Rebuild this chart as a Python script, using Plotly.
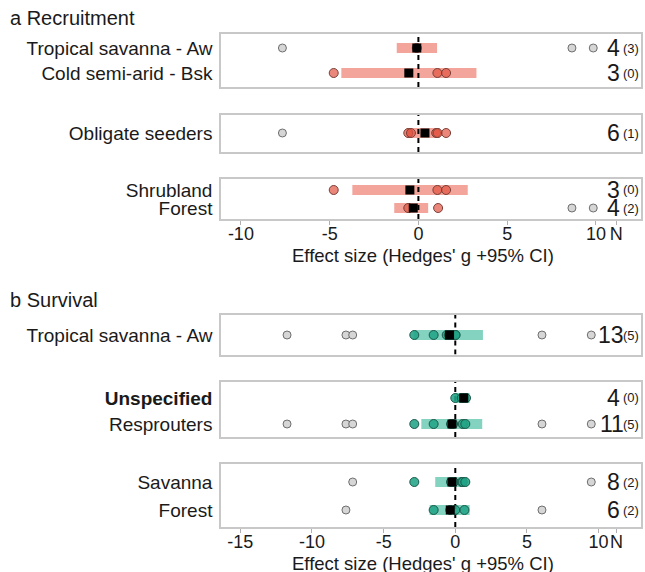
import plotly.graph_objects as go

# ---------------- Data: panel a (Recruitment) ----------------
a_labels = ["Tropical savanna - Aw", "Cold semi-arid - Bsk", "Obligate seeders", "Shrubland", "Forest"]
a_box = [0, 0, 1, 2, 2]
a_row = [1, 0, 0, 1, 0]
a_mean = [-0.09, -0.54, 0.37, -0.48, -0.29]
a_lo = [-1.22, -4.34, -0.66, -3.72, -1.36]
a_hi = [1.05, 3.27, 1.21, 2.78, 0.55]
a_pts = [[-0.09], [-4.77, 1.07, 1.56], [-0.57, -0.42, 1.0, 1.08, 1.56], [-4.77, 1.07, 1.56], [-0.57, 1.11]]
a_grey = [[-7.66, 8.65, 9.85], [], [-7.66], [], [8.65, 9.85]]
a_n = [4, 3, 6, 3, 4]
a_excl = [3, 0, 1, 0, 2]
a_ticks = [-10, -5, 0, 5, 10]

# ---------------- Data: panel b (Survival) ----------------
b_labels = ["Tropical savanna - Aw", "<b>Unspecified</b>", "Resprouters", "Savanna", "Forest"]
b_box = [3, 4, 4, 5, 5]
b_row = [0, 1, 0, 1, 0]
b_mean = [-0.40, 0.59, -0.23, -0.23, -0.35]
b_lo = [-2.91, -0.05, -2.37, -1.40, -1.79]
b_hi = [1.93, 1.00, 1.88, 0.80, 1.00]
b_pts = [[-2.86, -1.51, -0.6, -0.45, -0.3, -0.15, 0.0, 0.02],
         [0.0, 0.45, 0.6, 0.75],
         [-2.86, -1.51, -0.3, -0.15, 0.52, 0.70],
         [-2.86, -0.3, -0.1, 0.45, 0.52, 0.70],
         [-1.51, -0.35, 0.0, 0.64]]
b_grey = [[-11.74, -7.63, -7.16, 6.05, 9.49], [], [-11.74, -7.63, -7.16, 6.05, 9.49],
          [-7.16, 9.49], [-7.63, 6.05]]
b_n = [13, 4, 11, 8, 6]
b_excl = [5, 0, 5, 2, 2]
b_ticks = [-15, -10, -5, 0, 5, 10]

x_title = "Effect size (Hedges' g +95% CI)"
REF = 0  # zero-effect reference line

# ---------------- Layout geometry ----------------
W, H = 645, 572
X_LEFT, X_RIGHT = 221, 641
box_px = [(34, 87), (115, 152), (179, 219), (315, 354.5), (382, 437), (464, 527)]
box_yrange = [(-0.56, 1.56), (-0.76, 0.72), (-0.61, 1.61), (-0.78, 0.80), (-0.50, 1.615), (-0.607, 1.643)]
panel_xrange = [(-11.12, 12.54), (-16.35, 12.96)]
panel_nx = [11.15, 11.25]
title_px = [256, 563]

FONT = "Liberation Sans, Arial, sans-serif"
TXT = "#1a1a1a"
BOXC = "#c8c8c8"

panels = [
    dict(labels=a_labels, box=a_box, row=a_row, mean=a_mean, lo=a_lo, hi=a_hi, pts=a_pts,
         grey=a_grey, n=a_n, excl=a_excl, ticks=a_ticks,
         bar="#f3a59b", pfill="rgba(226,84,66,0.70)", pline="#7a4038"),
    dict(labels=b_labels, box=b_box, row=b_row, mean=b_mean, lo=b_lo, hi=b_hi, pts=b_pts,
         grey=b_grey, n=b_n, excl=b_excl, ticks=b_ticks,
         bar="#84d3c0", pfill="rgba(34,164,134,0.88)", pline="#1b5a4c"),
]

fig = go.Figure()
layout = dict(width=W, height=H, margin=dict(l=0, r=0, t=0, b=0, autoexpand=False),
              paper_bgcolor="white", plot_bgcolor="white", showlegend=False,
              font=dict(family=FONT, size=17, color=TXT))
annotations = []

def ax_name(i, kind):
    return kind if i == 0 else f"{kind}{i+1}"

for bi in range(6):
    p = 0 if bi < 3 else 1
    top, bot = box_px[bi]
    last = bi in (2, 5)
    xr = panel_xrange[p]
    P = panels[p]
    idx = [k for k in range(5) if P["box"][k] == bi]
    xa = dict(domain=[X_LEFT / W, X_RIGHT / W], range=list(xr), anchor=ax_name(bi, "y"),
              automargin=False,
              showline=True, mirror=True, linecolor=BOXC, linewidth=1.5,
              showgrid=False, zeroline=False, tickangle=0,
              tickvals=P["ticks"] + [panel_nx[p]],
              ticktext=[str(t) for t in P["ticks"]] + ["N"],
              showticklabels=last, ticks="outside" if last else "",
              ticklen=4, tickcolor="#b0b0b0", tickwidth=1.2, ticklabelstandoff=-6,
              tickfont=dict(size=18, color=TXT, family=FONT))
    if bi not in (0, 3):
        xa["matches"] = "x" if p == 0 else "x4"
    ya = dict(domain=[1 - bot / H, 1 - top / H], range=list(box_yrange[bi]),
              anchor=ax_name(bi, "x"), automargin=False,
              showline=True, mirror=True, linecolor=BOXC,
              linewidth=1.5, showgrid=False, zeroline=False, ticks="",
              tickvals=[P["row"][k] for k in idx], ticktext=[P["labels"][k] for k in idx],
              ticklabelstandoff=3, tickfont=dict(size=19, color=TXT, family=FONT))
    layout[ax_name(bi, "xaxis")] = xa
    layout[ax_name(bi, "yaxis")] = ya

    xs, ys = ax_name(bi, "x"), ax_name(bi, "y")
    # CI bars
    for k in idx:
        fig.add_trace(go.Scatter(x=[P["lo"][k], P["hi"][k]], y=[P["row"][k]] * 2, mode="lines",
                                 line=dict(color=P["bar"], width=10), xaxis=xs, yaxis=ys,
                                 hoverinfo="skip"))
    # reference dashed line
    fig.add_trace(go.Scatter(x=[REF, REF], y=list(box_yrange[bi]), mode="lines",
                             line=dict(color="black", width=2, dash="5px,4px"),
                             xaxis=xs, yaxis=ys, hoverinfo="skip"))
    for k in idx:
        r = P["row"][k]
        if P["grey"][k]:
            fig.add_trace(go.Scatter(x=P["grey"][k], y=[r] * len(P["grey"][k]), mode="markers",
                                     marker=dict(size=8, color="#d6d6d6",
                                                 line=dict(color="#6e6e6e", width=1)),
                                     xaxis=xs, yaxis=ys))
        fig.add_trace(go.Scatter(x=P["pts"][k], y=[r] * len(P["pts"][k]), mode="markers",
                                 marker=dict(size=9, color=P["pfill"],
                                             line=dict(color=P["pline"], width=1)),
                                 xaxis=xs, yaxis=ys))
        fig.add_trace(go.Scatter(x=[P["mean"][k]], y=[r], mode="markers",
                                 marker=dict(size=9, symbol="square", color="black"),
                                 xaxis=xs, yaxis=ys))
        n = P["n"][k]
        annotations.append(dict(x=xr[1], y=r, xref=xs, yref=ys, text=str(n),
                                xanchor="right", yanchor="middle",
                                xshift=-19 if n < 10 else -15, showarrow=False,
                                font=dict(size=23, color=TXT, family=FONT)))
        annotations.append(dict(x=xr[1], y=r, xref=xs, yref=ys, text=f"({P['excl'][k]})",
                                xanchor="right", yanchor="middle", xshift=0, yshift=0,
                                showarrow=False, font=dict(size=13, color=TXT, family=FONT)))

for p in range(2):
    annotations.append(dict(x=(X_LEFT + X_RIGHT) / 2 / W, y=1 - title_px[p] / H, xref="paper",
                            yref="paper", text=x_title, xanchor="center", yanchor="middle",
                            xshift=-8, showarrow=False,
                            font=dict(size=18.5, color=TXT, family=FONT)))

annotations.append(dict(x=8 / W, y=1 - 18 / H, xref="paper", yref="paper", text="a Recruitment",
                        xanchor="left", yanchor="middle", showarrow=False,
                        font=dict(size=20, color=TXT, family=FONT)))
annotations.append(dict(x=8 / W, y=1 - 300 / H, xref="paper", yref="paper", text="b Survival",
                        xanchor="left", yanchor="middle", showarrow=False,
                        font=dict(size=20, color=TXT, family=FONT)))
layout["annotations"] = annotations
fig.update_layout(**layout)
fig.write_html("out.html", config={"displayModeBar": False},
               post_script="document.body.style.margin='0';document.body.style.overflow='hidden';")
